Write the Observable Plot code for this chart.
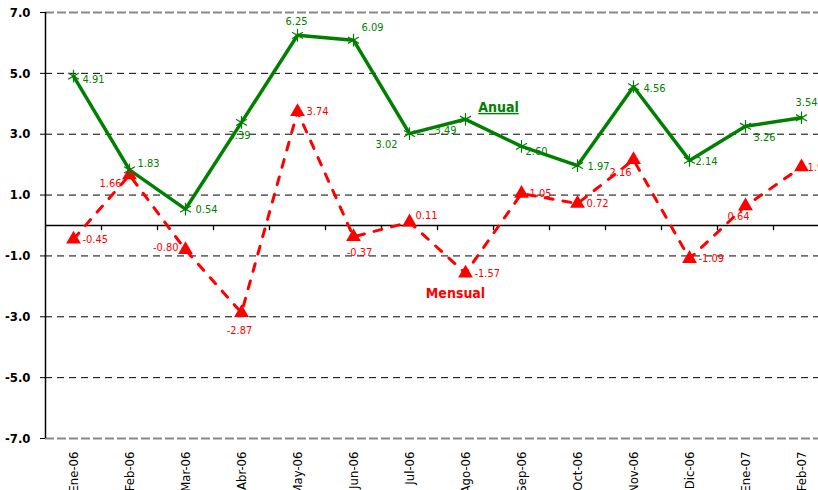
<!DOCTYPE html>
<html>
<head>
<meta charset="utf-8">
<script src="https://cdn.jsdelivr.net/npm/d3@7"></script>
<script src="https://cdn.jsdelivr.net/npm/@observablehq/plot@0.6"></script>
<style>
  html, body { margin: 0; padding: 0; background: #fff; }
  svg { display: block; }
</style>
</head>
<body>
<script>
// ---- data ----
const months = ["Ene-06","Feb-06","Mar-06","Abr-06","May-06","Jun-06","Jul-06","Ago-06","Sep-06","Oct-06","Nov-06","Dic-06","Ene-07","Feb-07"];
const anual = [4.91, 1.83, 0.54, 3.39, 6.25, 6.09, 3.02, 3.49, 2.60, 1.97, 4.56, 2.14, 3.26, 3.54];
const mensual = [-0.45, 1.66, -0.80, -2.87, 3.74, -0.37, 0.11, -1.57, 1.05, 0.72, 2.16, -1.09, 0.64, 1.92];
const yTicks = [-7, -5, -3, -1, 1, 3, 5, 7];
const seriesNames = ["Anual", "Mensual"];

// ---- layout (label placement: [dx px, dy px, anchor]) ----
const anualLabelPos = [[9,3,"start"],[8,-6,"start"],[10,0,"start"],[-2,13,"middle"],[-1,-14,"middle"],[8,-13,"start"],[-12,11,"end"],[-9,11,"end"],[4,5,"start"],[10,1,"start"],[10,2,"start"],[6,1,"start"],[8,11,"start"],[5,-15,"middle"]];
const mensualLabelPos = [[9,0,"start"],[-8,8,"end"],[-7,-2,"end"],[-2,18,"middle"],[9,0,"start"],[6,16,"middle"],[6,-7,"start"],[9,0,"start"],[8,0,"start"],[9,0,"start"],[-2,13,"end"],[9,0,"start"],[-7,10,"middle"],[6,0,"start"]];

const GREEN = "#008000";
const RED = "#ff0000";
const FONT = "'Liberation Sans Narrow', 'Arial Narrow', 'DejaVu Sans Condensed', sans-serif";

const data = months.map((m, i) => ({month: m, anual: anual[i], mensual: mensual[i]}));
const fmt2 = v => v.toFixed(2);
const fmt1 = v => v.toFixed(1);

const labelMarks = [];
data.forEach((d, i) => {
  const a = anualLabelPos[i], m = mensualLabelPos[i];
  labelMarks.push(Plot.text([d], {x: "month", y: "anual", text: r => fmt2(r.anual), fill: GREEN, fontSize: 11,
    textAnchor: a[2], dx: a[0], dy: a[1]}));
  labelMarks.push(Plot.text([d], {x: "month", y: "mensual", text: r => fmt2(r.mensual), fill: RED, fontSize: 11,
    textAnchor: m[2], dx: m[0], dy: m[1]}));
});

const annotations = [
  {name: seriesNames[0], month: "Ago-06", value: 3.88, color: GREEN, dx: 33},
  {name: seriesNames[1], month: "Ago-06", value: -2.24, color: RED, dx: -10}
];

const chart = Plot.plot({
  width: 818,
  height: 490,
  marginLeft: 45,
  marginRight: 0,
  marginTop: 12,
  marginBottom: 52,
  style: {fontFamily: FONT, background: "#fff", color: "#000", overflow: "hidden"},
  x: {type: "point", domain: months, range: [45, 829], padding: 0.5, label: null},
  y: {domain: [-7, 7], label: null},
  marks: [
    Plot.ruleY(yTicks.filter(t => Math.abs(t) < 7), {stroke: "#000", strokeWidth: 1, strokeDasharray: "7,5"}),
    Plot.ruleY(yTicks.filter(t => Math.abs(t) === 7), {stroke: "#888", strokeWidth: 2, strokeDasharray: "9,3"}),
    Plot.ruleY([0], {stroke: "#000", strokeWidth: 1.3}),
    Plot.ruleX(months, {x: d => d, y1: 0, y2: -0.17, dx: 28, stroke: "#000", strokeWidth: 1.3}),
    Plot.ruleX([months[0]], {x: d => d, y1: -7, y2: 7, dx: -28, stroke: "#000", strokeWidth: 1.5}),
    Plot.line(data, {x: "month", y: "mensual", stroke: RED, strokeWidth: 3, strokeDasharray: "8,10"}),
    Plot.line(data, {x: "month", y: "anual", stroke: GREEN, strokeWidth: 3.5}),
    Plot.dot(data, {x: "month", y: "mensual", symbol: "triangle", r: 5.5, fill: RED, stroke: "none"}),
    Plot.dot(data, {x: "month", y: "anual", symbol: "asterisk", r: 6, stroke: GREEN, strokeWidth: 1.2}),
    ...labelMarks,
    Plot.text(annotations, {x: "month", y: "value", text: "name", fill: "color", fontSize: 14, fontWeight: "bold",
      textAnchor: "middle"}),
    Plot.axisY({ticks: yTicks, tickFormat: fmt1, tickSize: 5, tickPadding: 10, fontSize: 13, fontWeight: "bold"}),
    Plot.axisX({tickRotate: -90, tickSize: 0, tickPadding: 13, fontSize: 13})
  ]
});

// shift annotation texts horizontally and underline "Anual"
d3.select(chart).selectAll("text").each(function() {
  const t = this.textContent;
  const a = annotations.find(a => a.name === t);
  if (a) {
    const cur = d3.select(this).attr("transform") || "";
    d3.select(this).attr("transform", cur + ` translate(${a.dx},0)`);
    if (a.name === seriesNames[0]) d3.select(this).style("text-decoration", "underline");
  }
});

document.body.appendChild(chart);
</script>
</body>
</html>
